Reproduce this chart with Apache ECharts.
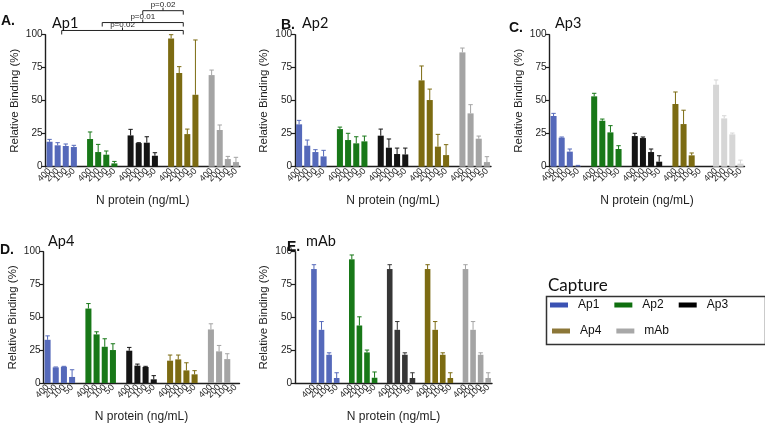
<!DOCTYPE html>
<html><head><meta charset="utf-8">
<script src="https://cdn.jsdelivr.net/npm/echarts@6/dist/echarts.min.js"></script>
<style>html,body{margin:0;padding:0;background:#fff}#c{width:765px;height:424px}</style>
</head><body><div id="c"></div>
<script>
// ---------- data ----------
const concentrations = ['400', '200', '100', '50'];
const captures = ['Ap1', 'Ap2', 'Ap3', 'Ap4', 'mAb'];
const panelLetters = ['A.', 'B.', 'C.', 'D.', 'E.'];
const panelTitles = ['Ap1', 'Ap2', 'Ap3', 'Ap4', 'mAb'];
const yTicks = [0, 25, 50, 75, 100];

// means (rows = capture Ap1..mAb, cols = 400,200,100,50 ng/mL)
const meanA = [[18.9,16.2,15.7,14.9],[21.0,11.1,9.1,2.5],[23.7,17.9,18.2,8.3],[97.2,71.0,24.7,54.5],[69.4,27.8,5.8,3.5]];
const errA  = [[1.8,2.0,1.5,1.3],[5.3,5.8,2.8,1.5],[4.6,0.3,4.5,2.3],[2.8,4.8,3.8,41.5],[3.8,3.8,2.0,3.6]];
const meanB = [[32.1,15.9,11.1,7.8],[28.5,20.2,17.7,19.2],[23.5,14.4,9.6,9.3],[65.4,50.5,15.2,8.8],[86.6,40.4,21.2,3.5]];
const errB  = [[3.0,4.3,1.8,4.6],[1.5,5.1,5.0,4.0],[5.0,6.6,4.5,4.8],[10.9,8.3,9.3,7.9],[3.3,6.6,2.0,4.1]];
const meanC = [[38.4,22.0,11.4,0.3],[53.3,34.8,26.0,13.4],[23.2,21.7,11.1,3.8],[47.5,32.3,8.6,0],[62.1,36.6,24.5,2.3]];
const errC  = [[2.0,0.5,2.0,0.7],[2.3,1.3,5.1,2.5],[2.1,0.8,2.3,4.5],[9.1,10.5,1.8,0],[3.6,2.0,1.0,2.7]];
const meanD = [[32.9,11.9,12.4,4.6],[56.7,37.0,27.6,25.1],[24.6,13.2,12.2,2.8],[17.0,18.0,9.6,6.6],[40.8,24.1,18.2,0]];
const errD  = [[3.0,0.3,0.3,5.5],[3.8,2.0,6.1,4.8],[2.5,1.2,0.5,2.8],[4.3,3.3,5.8,2.8],[4.3,4.5,4.1,0]];
const meanE = [[86.8,40.5,21.5,3.8],[94.2,43.8,23.3,4.0],[86.8,40.5,21.5,3.8],[86.8,40.5,21.5,3.8],[86.8,40.5,21.5,3.8]];
const errE  = [[3.3,6.3,1.5,4.0],[3.3,6.6,1.8,4.4],[3.3,6.3,1.5,4.0],[3.3,6.3,1.5,4.0],[3.3,6.3,1.5,4.0]];

// significance brackets in panel A (capture group indices, level in % units)
const bracketFrom  = [0, 1, 2];
const bracketTo    = [3, 3, 3];
const bracketLevel = [103.2, 109.2, 118.2];
const bracketLabel = ['p=0.02', 'p=0.01', 'p=0.02'];

// ---------- styles & layout ----------
const baseColors = ['#5569ba', '#187818', '#141414', '#7c6b12', '#a4a4a4'];
const panelColorOverride = [{}, {}, {4: '#d6d6d6'}, {}, {2: '#363636'}];
const legendColors = ['#3b52b3', '#0f6f0f', '#000000', '#8c7738', '#a8a8a8'];
const panels = [
  {left: 45.5, top: 34.7, width: 194.5, height: 132, lead: 0, letter: [1, 14], title: [52, 16]},
  {left: 295,  top: 34.7, width: 196,   height: 132, lead: 0, letter: [281, 18], title: [302, 16]},
  {left: 549.5,top: 34.7, width: 195,   height: 132, lead: 0, letter: [509, 21], title: [555, 16]},
  {left: 43.5, top: 251.7,width: 196,   height: 131.6, lead: 0, letter: [0, 243], title: [48, 234]},
  {left: 295,  top: 251.7,width: 197,   height: 131.6, lead: 2, letter: [287, 240], title: [306, 234]}
];
const means = [meanA, meanB, meanC, meanD, meanE];
const errs = [errA, errB, errC, errD, errE];
const FONT = 'Liberation Sans, Arial, sans-serif';
const TFONT = 'Lato, sans-serif';
const INK = '#1e1e1e';

function slotIndex(p, g, c) { return panels[p].lead + g * 5 + c; }
function colorOf(p, k) { return panelColorOverride[p][k] || baseColors[k]; }

const grids = [], xAxes = [], yAxes = [], series = [], titles = [];
panels.forEach((pl, p) => {
  const nSlots = pl.lead + 24;
  const cats = new Array(nSlots).fill('');
  for (let g = 0; g < 5; g++) for (let c = 0; c < 4; c++) cats[slotIndex(p, g, c)] = concentrations[c];
  grids.push({left: pl.left, top: pl.top, width: pl.width, height: pl.height});
  xAxes.push({
    type: 'category', gridIndex: p, data: cats, boundaryGap: true,
    axisLine: {lineStyle: {color: INK, width: 1.4}},
    axisTick: {alignWithLabel: true, length: 4, interval: (i, v) => v !== '', lineStyle: {color: INK, width: 1.2}},
    axisLabel: {interval: 0, rotate: 45, fontSize: 9, margin: 3, color: INK, fontFamily: FONT},
    name: 'N protein (ng/mL)', nameLocation: 'middle', nameGap: 28,
    nameTextStyle: {fontSize: 12, color: INK, fontFamily: FONT}
  });
  yAxes.push({
    type: 'value', gridIndex: p, min: yTicks[0], max: yTicks[yTicks.length - 1], interval: 25,
    axisLine: {show: true, lineStyle: {color: INK, width: 1.4}},
    axisTick: {show: true, length: 4, lineStyle: {color: INK, width: 1.2}},
    splitLine: {show: false},
    axisLabel: {fontSize: 10, margin: 3, color: INK, fontFamily: FONT},
    name: 'Relative Binding (%)', nameLocation: 'middle', nameGap: 25,
    nameTextStyle: {fontSize: 11.5, color: INK, fontFamily: FONT}
  });
  captures.forEach((cap, k) => {
    const d = new Array(nSlots).fill('-');
    for (let c = 0; c < 4; c++) d[slotIndex(p, k, c)] = means[p][k][c];
    series.push({
      type: 'bar', name: cap, xAxisIndex: p, yAxisIndex: p, stack: 'panel' + p,
      barWidth: '74%', data: d, itemStyle: {color: colorOf(p, k)}, silent: true
    });
  });
  const eData = [];
  for (let k = 0; k < 5; k++) for (let c = 0; c < 4; c++)
    eData.push([slotIndex(p, k, c), means[p][k][c], errs[p][k][c], k]);
  series.push({
    type: 'custom', xAxisIndex: p, yAxisIndex: p, data: eData, encode: {x: 0, y: 1}, z: 3, silent: true,
    renderItem: (params, api) => {
      const x = api.value(0), m = api.value(1), sd = api.value(2), k = api.value(3);
      if (!(sd > 0)) return null;
      const p0 = api.coord([x, m]), p1 = api.coord([x, m + sd]);
      const col = colorOf(p, k);
      return {type: 'group', children: [
        {type: 'line', shape: {x1: p0[0], y1: p0[1], x2: p1[0], y2: p1[1]}, style: {stroke: col, lineWidth: 1}},
        {type: 'line', shape: {x1: p1[0] - 2.2, y1: p1[1], x2: p1[0] + 2.2, y2: p1[1]}, style: {stroke: col, lineWidth: 1}}
      ]};
    }
  });
  titles.push({text: panelLetters[p], left: pl.letter[0], top: pl.letter[1], padding: 0,
    textStyle: {fontSize: 14, fontWeight: 'bold', color: '#111', fontFamily: FONT}});
  titles.push({text: panelTitles[p], left: pl.title[0], top: pl.title[1], padding: 0,
    textStyle: {fontSize: 14.5, fontWeight: 'normal', color: '#111', fontFamily: TFONT}});
});

// brackets (panel A)
const bData = bracketFrom.map((f, i) => [f, bracketTo[i], bracketLevel[i], i]);
series.push({
  type: 'custom', xAxisIndex: 0, yAxisIndex: 0, data: bData, encode: {x: 0, y: 2}, clip: false, z: 4, silent: true,
  renderItem: (params, api) => {
    const f = api.value(0), t = api.value(1), lv = api.value(2), i = api.value(3);
    const cx = g => (api.coord([slotIndex(0, g, 1), 0])[0] + api.coord([slotIndex(0, g, 2), 0])[0]) / 2;
    const x1 = cx(f), x2 = cx(t), y = api.coord([0, lv])[1], xm = (x1 + x2) / 2;
    return {type: 'group', children: [
      {type: 'polyline', shape: {points: [[x1, y + 4], [x1, y], [x2, y], [x2, y + 4]]}, style: {stroke: '#222', lineWidth: 1, fill: null}},
      {type: 'line', shape: {x1: xm, y1: y, x2: xm, y2: y - 3}, style: {stroke: '#222', lineWidth: 1}},
      {type: 'text', x: xm, y: y - 6, style: {text: bracketLabel[i], fontSize: 8, fontFamily: FONT, fill: '#222', align: 'center', verticalAlign: 'middle'}}
    ]};
  }
});

titles.push({text: 'Capture', left: 548, top: 277, padding: 0, textStyle: {fontSize: 17, fontWeight: 'normal', color: '#111', fontFamily: TFONT}});

const legendItem = k => ({name: captures[k], icon: 'rect', itemStyle: {color: legendColors[k]}});
const legendCommon = {orient: 'horizontal', itemWidth: 18, itemHeight: 5, itemGap: 15, selectedMode: false, padding: 0,
  textStyle: {fontSize: 12, color: '#111', fontFamily: FONT, padding: [0, 0, 0, 5]}};

const chart = echarts.init(document.getElementById('c'), null, {renderer: 'canvas'});
chart.setOption({
  animation: false,
  backgroundColor: '#fff',
  title: titles,
  grid: grids, xAxis: xAxes, yAxis: yAxes, series: series,
  legend: [
    Object.assign({left: 550, top: 299, data: [0, 1, 2].map(legendItem)}, legendCommon),
    Object.assign({left: 552, top: 325, data: [3, 4].map(legendItem)}, legendCommon)
  ],
  graphic: [{type: 'rect', left: 544, top: 294, shape: {width: 219, height: 48},
    style: {fill: 'none', stroke: '#333', lineWidth: 1.5}, silent: true}]
});
</script></body></html>
